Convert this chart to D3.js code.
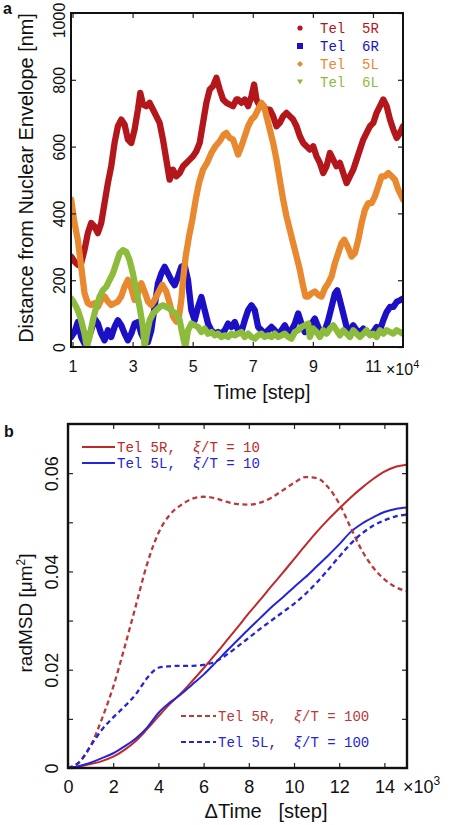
<!DOCTYPE html>
<html><head><meta charset="utf-8">
<script src="https://cdn.jsdelivr.net/npm/d3@7"></script>
<style>body{margin:0;background:#fff}svg{display:block}text{font-family:"Liberation Sans",Arial,sans-serif}text.mono{font-family:"Liberation Mono","DejaVu Sans Mono",monospace;white-space:pre}</style>
</head><body>
<script>
// ---------- Panel a data: time (x10^4 step), distance (nm) ----------
const seriesA = ["Tel  5R","Tel  6R","Tel  5L","Tel  6L"];
const xTicksA = [1,3,5,7,9,11];
const yTicksA = [0,200,400,600,800,1000];
const tel5R = [[0.956,271],[1.067,256],[1.178,246],[1.289,251],[1.4,291],[1.511,341],[1.622,371],[1.733,361],[1.844,341],[1.956,371],[2.067,431],[2.178,491],[2.289,541],[2.4,611],[2.511,661],[2.622,681],[2.733,666],[2.844,621],[2.956,611],[3.067,651],[3.178,711],[3.256,761],[3.344,726],[3.456,721],[3.567,731],[3.678,711],[3.789,691],[3.9,671],[4.011,621],[4.122,561],[4.233,501],[4.344,531],[4.456,511],[4.567,521],[4.678,541],[4.789,551],[4.9,561],[5.011,571],[5.122,586],[5.233,611],[5.344,671],[5.456,731],[5.567,771],[5.678,781],[5.789,806],[5.9,771],[6.011,741],[6.122,731],[6.233,726],[6.344,721],[6.456,741],[6.511,741],[6.622,731],[6.733,741],[6.844,721],[6.956,751],[7.044,786],[7.122,741],[7.233,721],[7.344,721],[7.456,711],[7.567,711],[7.678,691],[7.789,661],[7.9,671],[8.011,691],[8.122,701],[8.233,691],[8.344,681],[8.456,661],[8.567,631],[8.678,611],[8.789,601],[8.9,591],[9.011,601],[9.122,571],[9.233,551],[9.344,521],[9.456,541],[9.567,581],[9.678,561],[9.789,541],[9.9,551],[10.011,521],[10.122,491],[10.233,511],[10.344,531],[10.456,561],[10.567,591],[10.678,621],[10.789,641],[10.9,661],[11.011,671],[11.122,701],[11.233,721],[11.344,741],[11.456,721],[11.567,681],[11.678,651],[11.789,626],[11.9,641],[12.0,661]];
const tel6R = [[0.956,30],[1.067,45],[1.178,75],[1.289,30],[1.4,10],[1.511,20],[1.622,50],[1.733,85],[1.844,70],[1.956,40],[2.067,20],[2.178,50],[2.289,30],[2.4,60],[2.511,80],[2.622,65],[2.733,40],[2.844,20],[2.956,40],[3.067,70],[3.178,75],[3.289,40],[3.4,20],[3.511,15],[3.622,50],[3.733,120],[3.844,190],[3.956,220],[4.067,240],[4.178,220],[4.289,200],[4.4,185],[4.511,210],[4.622,240],[4.733,245],[4.844,200],[4.956,110],[5.067,80],[5.178,120],[5.289,150],[5.4,110],[5.511,70],[5.622,50],[5.733,40],[5.844,45],[5.956,40],[6.067,50],[6.178,70],[6.289,60],[6.4,75],[6.511,50],[6.622,45],[6.733,80],[6.844,110],[6.956,125],[7.067,110],[7.178,60],[7.289,50],[7.4,40],[7.511,50],[7.622,60],[7.733,50],[7.844,35],[7.956,50],[8.067,65],[8.178,45],[8.289,50],[8.4,70],[8.511,100],[8.622,70],[8.733,45],[8.844,60],[8.956,70],[9.067,85],[9.178,60],[9.289,40],[9.4,50],[9.511,80],[9.622,120],[9.733,160],[9.811,170],[9.9,140],[10.011,100],[10.122,60],[10.233,50],[10.344,65],[10.456,50],[10.567,45],[10.678,55],[10.789,45],[10.9,40],[11.011,45],[11.122,60],[11.233,50],[11.344,80],[11.456,105],[11.567,120],[11.678,120],[11.789,135],[11.9,140],[12.0,145]];
const tel5L = [[0.956,441],[1.067,371],[1.178,321],[1.289,241],[1.4,161],[1.511,131],[1.622,126],[1.733,131],[1.844,120],[1.956,141],[2.067,151],[2.178,136],[2.289,126],[2.4,131],[2.511,136],[2.622,151],[2.733,181],[2.844,201],[2.956,176],[3.067,141],[3.178,161],[3.289,191],[3.4,166],[3.511,136],[3.622,126],[3.733,141],[3.844,161],[3.989,186],[4.122,166],[4.233,131],[4.344,91],[4.456,76],[4.544,91],[4.622,141],[4.678,201],[4.767,271],[4.878,331],[4.989,381],[5.1,441],[5.211,491],[5.344,531],[5.478,551],[5.622,581],[5.756,601],[5.9,616],[6.033,636],[6.122,641],[6.233,626],[6.344,621],[6.456,591],[6.511,576],[6.622,601],[6.733,631],[6.844,661],[6.956,681],[7.067,691],[7.178,711],[7.289,731],[7.378,721],[7.456,691],[7.567,651],[7.678,611],[7.789,561],[7.9,501],[8.011,441],[8.122,391],[8.233,351],[8.344,311],[8.456,271],[8.567,231],[8.678,181],[8.756,151],[8.844,151],[8.956,161],[9.067,166],[9.178,156],[9.289,151],[9.4,176],[9.511,191],[9.622,211],[9.733,251],[9.844,281],[9.956,311],[10.044,321],[10.156,301],[10.289,271],[10.4,281],[10.511,321],[10.622,371],[10.733,411],[10.844,431],[10.956,431],[11.067,451],[11.178,481],[11.289,511],[11.4,511],[11.511,521],[11.622,511],[11.733,501],[11.844,471],[11.956,451],[12.0,441]];
const tel6L = [[0.956,145],[1.067,130],[1.178,110],[1.289,80],[1.4,40],[1.478,0],[1.567,30],[1.678,80],[1.789,120],[1.9,150],[2.011,170],[2.122,180],[2.233,200],[2.344,220],[2.456,250],[2.567,280],[2.678,290],[2.789,285],[2.9,260],[3.011,220],[3.122,170],[3.233,120],[3.344,60],[3.4,0],[3.478,40],[3.567,80],[3.678,100],[3.789,110],[3.9,120],[4.011,125],[4.122,120],[4.233,115],[4.344,105],[4.456,100],[4.567,80],[4.678,30],[4.756,0],[4.844,50],[4.956,70],[5.067,65],[5.178,60],[5.289,45],[5.4,55],[5.511,40],[5.622,45],[5.733,35],[5.844,40],[5.956,30],[6.067,35],[6.178,30],[6.289,40],[6.4,35],[6.511,40],[6.622,45],[6.733,30],[6.844,40],[6.956,30],[7.067,25],[7.178,35],[7.289,40],[7.4,30],[7.511,35],[7.622,30],[7.733,40],[7.844,30],[7.956,35],[8.067,40],[8.178,30],[8.289,25],[8.4,45],[8.511,50],[8.622,60],[8.733,65],[8.844,70],[8.9,30],[9.011,55],[9.122,45],[9.233,30],[9.344,50],[9.456,40],[9.567,55],[9.678,65],[9.789,50],[9.9,35],[10.011,50],[10.122,40],[10.233,30],[10.344,50],[10.456,40],[10.567,30],[10.678,40],[10.789,50],[10.9,35],[11.011,40],[11.122,30],[11.233,50],[11.344,40],[11.456,50],[11.567,45],[11.678,40],[11.789,50],[11.9,45],[12.0,40]];

// ---------- Panel b data: ΔTime (x10^3 step), radMSD (µm^2) ----------
const dTime = [0,0.5,1,1.5,2,2.5,3,3.5,4,4.5,5,5.5,6,6.5,7,7.5,8,8.5,9,9.5,10,10.5,11,11.5,12,12.5,13,13.5,14,14.5,15];
const msd5R_10  = [0,0.0003,0.0008,0.0014,0.0023,0.0037,0.0055,0.0079,0.0105,0.013,0.0152,0.0177,0.0203,0.023,0.0258,0.0286,0.0315,0.0342,0.037,0.0397,0.0425,0.0453,0.048,0.0505,0.0528,0.055,0.057,0.0588,0.0603,0.0613,0.0617];
const msd5L_10  = [0,0.0004,0.0011,0.002,0.003,0.0044,0.006,0.0082,0.0112,0.0133,0.015,0.017,0.019,0.0213,0.0237,0.026,0.0283,0.0305,0.0327,0.0347,0.0368,0.0388,0.041,0.0432,0.0455,0.048,0.0497,0.051,0.0521,0.0527,0.053];
const msd5R_100 = [0,0.0012,0.0045,0.010,0.0165,0.0245,0.033,0.0415,0.0478,0.0515,0.0535,0.0548,0.0552,0.0549,0.0542,0.0537,0.0536,0.054,0.055,0.0565,0.058,0.0592,0.059,0.0572,0.0538,0.049,0.0443,0.0408,0.0384,0.0368,0.036];
const msd5L_100 = [0,0.0012,0.0045,0.0078,0.0103,0.0125,0.015,0.0183,0.0204,0.0207,0.0208,0.0208,0.021,0.0216,0.023,0.0247,0.0265,0.0283,0.03,0.0317,0.0334,0.0354,0.0377,0.0403,0.043,0.0456,0.0477,0.0493,0.0504,0.0512,0.0516];
const legendB = [["Tel 5R,  ", "/T = 10"], ["Tel 5L,  ", "/T = 10"], ["Tel 5R,  ", "/T = 100"], ["Tel 5L,  ", "/T = 100"]];
const xTicksB = [0,2,4,6,8,10,12,14];
const yTicksB = [0,0.01,0.02,0.03,0.04,0.05,0.06];

// ---------- drawing ----------
const W = 450, H = 825;
const svg = d3.select("body").append("svg").attr("width", W).attr("height", H);
const colA = ["#b3161b", "#1c10c6", "#e8892f", "#8dbb3c"];
const colB = {r: "#c0282c", b: "#2424d8"};

function fitText(sel, target) {
  const len = sel.node().getComputedTextLength();
  const fs = parseFloat(sel.attr("font-size"));
  sel.attr("font-size", (fs * target / len).toFixed(2));
}

// ===== Panel a =====
const A = {l: 71, r: 403, t: 13, b: 347};
const xA = d3.scaleLinear().domain([0.95, 12]).range([A.l, A.r]);
const yA = d3.scaleLinear().domain([0, 1000]).range([A.b, A.t]);
const gA = svg.append("g");
gA.append("clipPath").attr("id", "clipA").append("rect")
  .attr("x", A.l).attr("y", A.t - 2).attr("width", A.r - A.l).attr("height", A.b - A.t + 2);
const lineA = d3.line().x(d => xA(d[0])).y(d => yA(d[1]));
const dataA = [tel5R, tel6R, tel5L, tel6L];
[0, 1, 2, 3].forEach(i => {
  gA.append("path").attr("clip-path", "url(#clipA)").attr("d", lineA(dataA[i]))
    .attr("fill", "none").attr("stroke", colA[i]).attr("stroke-width", 6.3)
    .attr("stroke-linejoin", "round").attr("stroke-linecap", "round");
});
// axes
const axBA = gA.append("g").attr("transform", `translate(0,${A.b})`)
  .call(d3.axisBottom(xA).tickValues(xTicksA).tickSizeInner(-5).tickSizeOuter(0).tickPadding(14).tickFormat(d3.format("d")));
const axTA = gA.append("g").attr("transform", `translate(0,${A.t})`)
  .call(d3.axisTop(xA).tickValues(xTicksA).tickSizeInner(-5).tickSizeOuter(0).tickFormat(""));
const axLA = gA.append("g").attr("transform", `translate(${A.l},0)`)
  .call(d3.axisLeft(yA).tickValues(yTicksA).tickSizeInner(-5).tickSizeOuter(0).tickFormat(d3.format("d")));
const axRA = gA.append("g").attr("transform", `translate(${A.r},0)`)
  .call(d3.axisRight(yA).tickValues(yTicksA).tickSizeInner(-5).tickSizeOuter(0).tickFormat(""));
[axBA, axTA, axLA, axRA].forEach(a => { a.select(".domain").remove(); a.selectAll("line").attr("stroke", "#222").attr("stroke-width", 1.2); });
axBA.selectAll("text").attr("font-size", 16).attr("fill", "#111");
axLA.selectAll("text").attr("font-size", 16).attr("fill", "#111")
  .attr("x", null).attr("dy", null).attr("text-anchor", "middle")
  .attr("transform", d => d === 1000 ? "translate(-6,7) rotate(-90)" : "translate(-6,0) rotate(-90)");
gA.append("rect").attr("x", A.l).attr("y", A.t).attr("width", A.r - A.l).attr("height", A.b - A.t)
  .attr("fill", "none").attr("stroke", "#111").attr("stroke-width", 2);
// x10^4
const e4 = gA.append("text").attr("x", 386).attr("y", 375).attr("font-size", 16).attr("fill", "#111");
e4.append("tspan").text("\u00D710");
e4.append("tspan").attr("font-size", 11).attr("dy", -7).text("4");
// titles
const txA = gA.append("text").attr("x", 262).attr("y", 399).attr("text-anchor", "middle").attr("font-size", 19).attr("fill", "#111").text("Time [step]");
fitText(txA, 97);
const tyA = gA.append("text").attr("transform", "translate(33,178) rotate(-90)").attr("text-anchor", "middle").attr("font-size", 19).attr("fill", "#111").text("Distance from Nuclear Envelope [nm]");
fitText(tyA, 330);
gA.append("text").attr("x", 3).attr("y", 14).attr("font-size", 16).attr("font-weight", "bold").attr("fill", "#111").text("a");
// legend a
const legA = gA.append("g");
const legY = [28, 46, 64, 82];
seriesA.forEach((s, i) => {
  const cy = legY[i], cx = 300;
  if (i === 0) legA.append("circle").attr("cx", cx).attr("cy", cy).attr("r", 2.6).attr("fill", colA[0]);
  if (i === 1) legA.append("rect").attr("x", cx - 3).attr("y", cy - 3).attr("width", 6).attr("height", 6).attr("fill", colA[1]);
  if (i === 2) legA.append("path").attr("d", `M${cx},${cy-3}L${cx+3},${cy}L${cx},${cy+3}L${cx-3},${cy}Z`).attr("fill", colA[2]);
  if (i === 3) legA.append("path").attr("d", `M${cx-3},${cy-2.5}L${cx+3},${cy-2.5}L${cx},${cy+2.5}Z`).attr("fill", colA[3]);
  legA.append("text").attr("class", "mono").attr("x", 320).attr("y", cy).attr("dy", "0.36em").attr("font-size", 14)
    .attr("fill", colA[i]).text(s);
});

// ===== Panel b =====
const B = {l: 68, r: 407, t: 424, b: 768};
const xB = d3.scaleLinear().domain([0, 15]).range([B.l, B.r]);
const yB = d3.scaleLinear().domain([0, 0.07]).range([B.b, B.t]);
const gB = svg.append("g");
const lineB = vals => d3.line().x((d, i) => xB(dTime[i])).y(d => yB(d)).curve(d3.curveMonotoneX)(vals);
const curves = [
  {v: msd5R_10, c: colB.r, dash: null},
  {v: msd5L_10, c: colB.b, dash: null},
  {v: msd5R_100, c: "#b83a3a", dash: "5,3.5"},
  {v: msd5L_100, c: colB.b, dash: "5,3.5"}
];
curves.forEach(k => {
  gB.append("path").attr("d", lineB(k.v)).attr("fill", "none").attr("stroke", k.c)
    .attr("stroke-width", k.dash ? 2.3 : 2).attr("stroke-dasharray", k.dash);
});
const fmtB = d => d === 0 ? "0" : d3.format(".2f")(d);
const axBB = gB.append("g").attr("transform", `translate(0,${B.b})`)
  .call(d3.axisBottom(xB).tickValues(xTicksB).tickSizeInner(-5).tickSizeOuter(0).tickPadding(12).tickFormat(d3.format("d")));
const axTB = gB.append("g").attr("transform", `translate(0,${B.t})`)
  .call(d3.axisTop(xB).tickValues(xTicksB).tickSizeInner(-5).tickSizeOuter(0).tickFormat(""));
const axLB = gB.append("g").attr("transform", `translate(${B.l},0)`)
  .call(d3.axisLeft(yB).tickValues(yTicksB).tickSizeInner(-5).tickSizeOuter(0)
    .tickFormat(d => (Math.round(d * 100) % 2 === 0) ? fmtB(d) : ""));
const axRB = gB.append("g").attr("transform", `translate(${B.r},0)`)
  .call(d3.axisRight(yB).tickValues(yTicksB).tickSizeInner(-5).tickSizeOuter(0).tickFormat(""));
[axBB, axTB, axLB, axRB].forEach(a => { a.select(".domain").remove(); a.selectAll("line").attr("stroke", "#222").attr("stroke-width", 1.2); });
axBB.selectAll("text").attr("font-size", 18).attr("fill", "#111");
axLB.selectAll("text").attr("font-size", 18).attr("fill", "#111")
  .attr("x", null).attr("dy", null).attr("text-anchor", "middle").attr("transform", "translate(-10,0) rotate(-90)");
gB.append("rect").attr("x", B.l).attr("y", B.t).attr("width", B.r - B.l).attr("height", B.b - B.t)
  .attr("fill", "none").attr("stroke", "#111").attr("stroke-width", 2.4);
const e3 = gB.append("text").attr("x", 403).attr("y", 793).attr("font-size", 18).attr("fill", "#111");
e3.append("tspan").text("\u00D710");
e3.append("tspan").attr("font-size", 12).attr("dy", -8).text("3");
const txB = gB.append("text").attr("x", 266).attr("y", 818).attr("text-anchor", "middle").attr("font-size", 19)
  .attr("fill", "#111").style("white-space", "pre").text("\u0394Time   [step]");
fitText(txB, 123);
const tyB = gB.append("text").attr("transform", "translate(32,613) rotate(-90)").attr("text-anchor", "middle").attr("font-size", 19).attr("fill", "#111");
tyB.append("tspan").text("radMSD [\u03BCm");
tyB.append("tspan").attr("font-size", 12).attr("dy", -7).text("2");
tyB.append("tspan").attr("dy", 7).text("]");
gB.append("text").attr("x", 4).attr("y", 437).attr("font-size", 16).attr("font-weight", "bold").attr("fill", "#111").text("b");
// legend b
const legB = [
  {x1: 82, x2: 115, tx: 117, y: 447, c: colB.r, dash: null},
  {x1: 82, x2: 115, tx: 117, y: 463, c: colB.b, dash: null},
  {x1: 181, x2: 216, tx: 218, y: 716, c: "#b83a3a", dash: "5,3"},
  {x1: 181, x2: 216, tx: 218, y: 742, c: colB.b, dash: "5,3"}
];
legB.forEach((L, i) => {
  gB.append("line").attr("x1", L.x1).attr("x2", L.x2).attr("y1", L.y).attr("y2", L.y)
    .attr("stroke", L.c).attr("stroke-width", 2).attr("stroke-dasharray", L.dash);
  const t = gB.append("text").attr("class", "mono").attr("x", L.tx).attr("y", L.y).attr("dy", "0.36em").attr("font-size", 14)
    .attr("fill", L.c);
  t.append("tspan").text(legendB[i][0]);
  t.append("tspan").attr("font-style", "italic").text("\u03BE");
  t.append("tspan").text(legendB[i][1]);
});
</script>
</body></html>
